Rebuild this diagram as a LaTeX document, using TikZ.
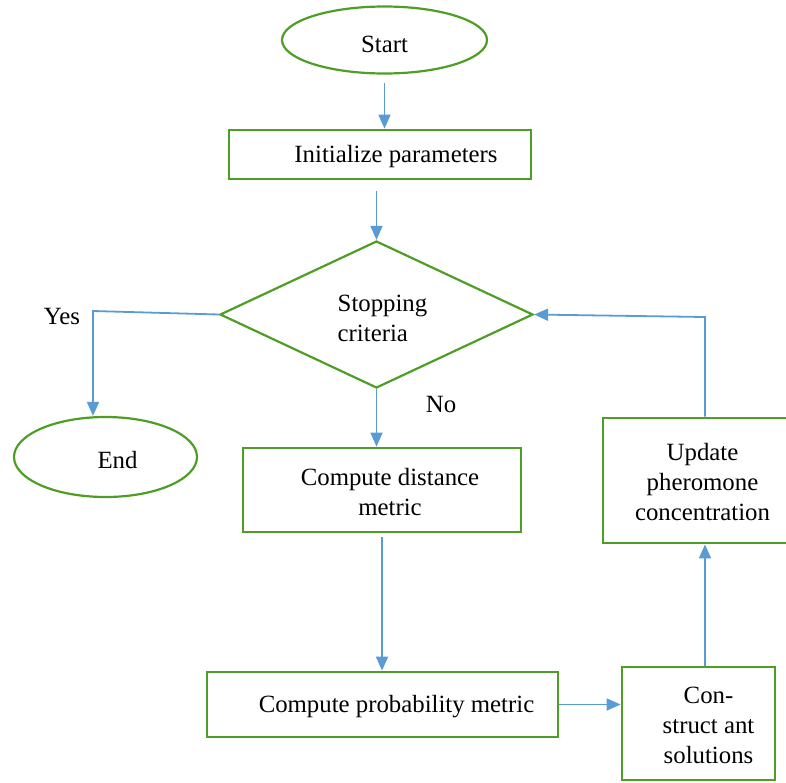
\documentclass[tikz,border=0pt]{standalone}
\usepackage{fontspec}
\setmainfont{Liberation Serif}
\usetikzlibrary{shapes.geometric}
\usetikzlibrary{arrows.meta}
\definecolor{boxgreen}{RGB}{78,158,38}
\definecolor{flowblue}{RGB}{91,155,213}
\tikzset{
  box/.style={draw=boxgreen, line width=1.4pt, rectangle, inner sep=0pt},
  oval/.style={draw=boxgreen, line width=1.1pt, ellipse, inner sep=0pt},
  decision/.style={draw=boxgreen, line width=1.1pt, diamond, inner sep=0pt},
  flow/.style={draw=flowblue, line width=0.9pt, -{Triangle[length=7pt,width=6pt]}},
}

\begin{document}
\begin{tikzpicture}[x=0.5pt, y=-0.5pt, font=\fontsize{12.4}{15}\selectfont]
    \useasboundingbox (0,0) rectangle (786,782);
    \clip (0,0) rectangle (786,782);
    % shapes
    \node[oval, minimum width=102.5pt, minimum height=33.5pt,
          label={[yshift=-2pt]center:Start}] (start) at (384.5,40) {};
    \node[box, minimum width=151pt, minimum height=24.5pt,
          label={[xshift=8pt, yshift=-1pt]center:Initialize parameters}] (init) at (380,154.5) {};
    \node[decision, minimum width=156.5pt, minimum height=73.5pt,
          label={[xshift=3pt, yshift=-2pt, align=left]center:Stopping\\criteria}] (crit) at (376.5,314.5) {};
    \node[oval, minimum width=91.5pt, minimum height=40pt,
          label={[xshift=6pt, yshift=-1.5pt]center:End}] (end) at (105.5,457) {};
    \node[box, minimum width=139pt, minimum height=42pt,
          label={[xshift=4pt, yshift=-1pt, align=center]center:Compute distance\\metric}] (dist) at (382,490) {};
    \node[box, minimum width=175.5pt, minimum height=32.5pt,
          label={[xshift=7pt, yshift=-1pt]center:Compute probability metric}] (prob) at (382.5,704.5) {};
    \node[box, minimum width=76.5pt, minimum height=56.5pt,
          label={[xshift=5pt, yshift=-1pt, align=center]center:Con-\\struct ant\\solutions}] (cons) at (698.5,723.5) {};
    \node[box, minimum width=93.5pt, minimum height=62.5pt,
          label={[xshift=3pt, yshift=-1pt, align=center]center:Update\\pheromone\\concentration}] (upd) at (696.5,480.5) {};
    \node (yes) at (62,316) {Yes};
    \node (no) at (441,404) {No};
    % bends
    \coordinate (yescorner) at (93,311);
    \coordinate (loopcorner) at (705,317);
    \coordinate (consup) at ([xshift=3.25pt]cons.north);
    \coordinate (updup) at ([xshift=4.25pt]upd.north);
    % connectors
    \draw[flow, shorten <=4.25pt] (start.south) -- (start.south |- init.north);
    \draw[flow, shorten <=5.5pt] (crit.north |- init.south) -- (crit.north);
    \draw[flow] (crit.west) -- (yescorner) -- (yescorner |- end.north);
    \draw[flow] (crit.south) -- (crit.south |- dist.north);
    \draw[flow, shorten <=2pt] (dist.south) -- (dist.south |- prob.north);
    \draw[flow] (prob.east) -- (prob.east -| cons.west);
    \draw[flow] (consup) -- (consup |- upd.south);
    \draw[flow] (updup) -- (loopcorner) -- (crit.east);
\end{tikzpicture}
\end{document}
